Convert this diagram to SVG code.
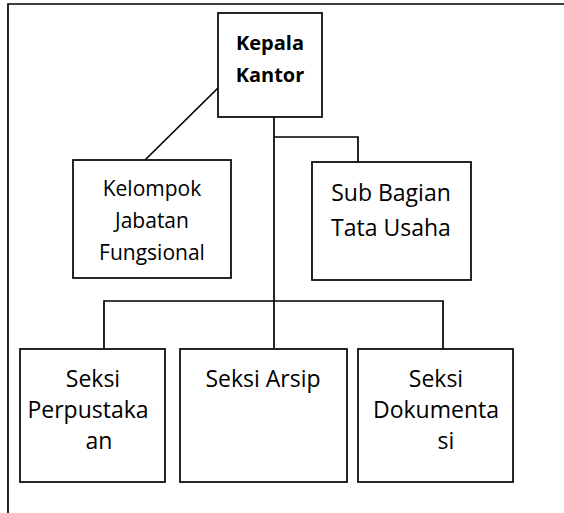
<svg xmlns="http://www.w3.org/2000/svg" width="564" height="513" viewBox="0 0 564 513">
<style>
.box{fill:#fff;stroke:#000;stroke-width:1.7}
.ln{fill:none;stroke:#000;stroke-width:1.7}
text{font-family:"Open Sans","Noto Sans",sans-serif;fill:#000;text-anchor:middle}
.b{font-weight:bold;font-size:20px}
.m{font-size:21px}
.l{font-size:23px}
</style>
<rect width="564" height="513" fill="#fff"/>
<path class="ln" d="M8,513 V4 H564"/>
<g id="connectors">
<path class="ln" d="M218,88 L145,160"/>
<path class="ln" d="M274,117 V348"/>
<path class="ln" d="M274,137 H358 V162"/>
<path class="ln" d="M104,349 V301 H443 V349"/>
</g>
<g id="kepala">
<rect class="box" x="218" y="13" width="104" height="104"/>
<text class="b" x="270" y="50">Kepala</text>
<text class="b" x="270" y="82">Kantor</text>
</g>
<g id="kelompok">
<rect class="box" x="73" y="160" width="158" height="118"/>
<text class="m" x="152" y="196">Kelompok</text>
<text class="m" x="152" y="228">Jabatan</text>
<text class="m" x="152" y="260">Fungsional</text>
</g>
<g id="subbagian">
<rect class="box" x="312" y="162" width="159" height="118"/>
<text class="l" x="391" y="201">Sub Bagian</text>
<text class="l" x="391" y="236">Tata Usaha</text>
</g>
<g id="perpustakaan">
<rect class="box" x="20" y="349" width="145" height="133"/>
<text class="l" x="93" y="387">Seksi</text>
<text class="l" x="88" y="418">Perpustaka</text>
<text class="l" x="99" y="449">an</text>
</g>
<g id="arsip">
<rect class="box" x="180" y="349" width="167" height="133"/>
<text class="l" x="263" y="387">Seksi Arsip</text>
</g>
<g id="dokumentasi">
<rect class="box" x="358" y="349" width="155" height="133"/>
<text class="l" x="436" y="387">Seksi</text>
<text class="l" x="436" y="418">Dokumenta</text>
<text class="l" x="446" y="449">si</text>
</g>
</svg>
